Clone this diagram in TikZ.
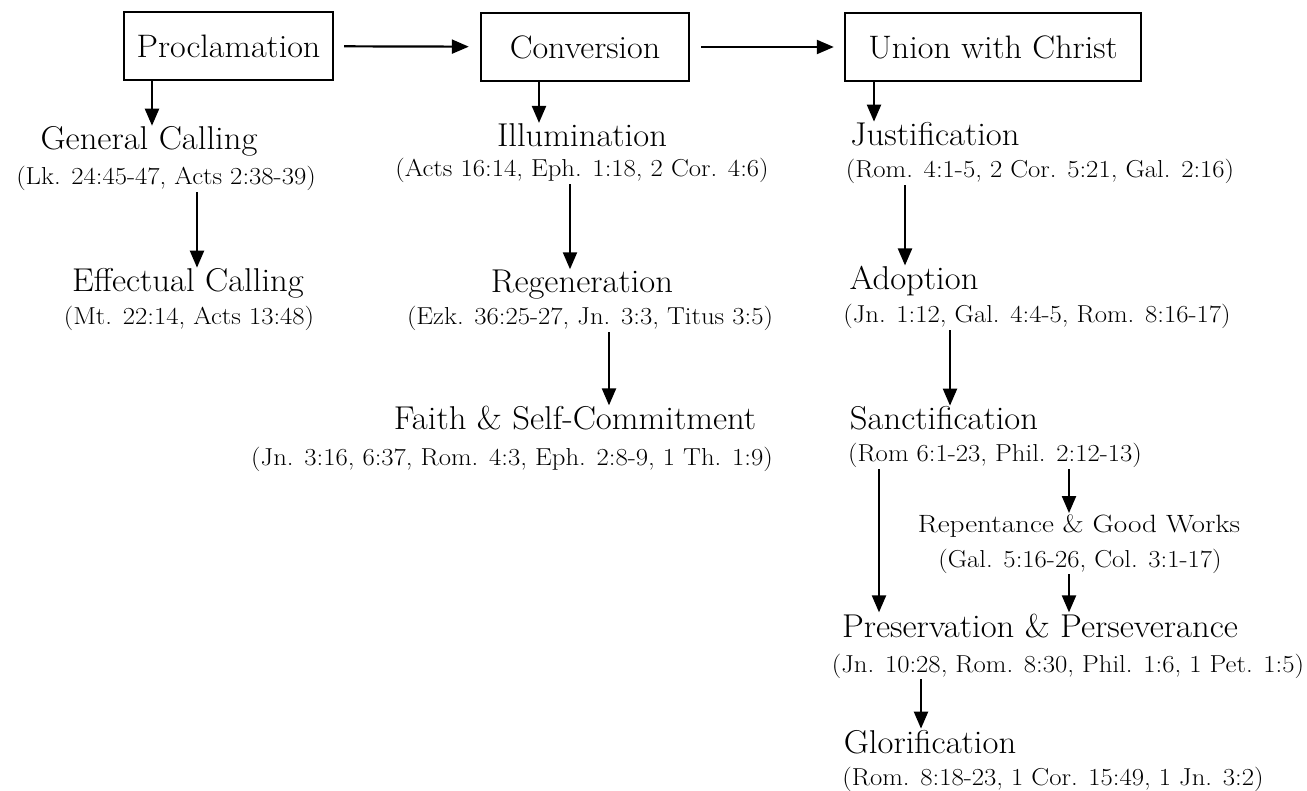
\documentclass[tikz,border=0pt]{standalone}
\usepackage{fontspec}
\usetikzlibrary{arrows.meta}
\newfontfamily\titlefont{lmroman17-regular.otf}[FakeStretch=1.05]
\newfontfamily\reffont{lmroman17-regular.otf}[FakeStretch=1.09]
\newfontfamily\smallfont{lmroman17-regular.otf}[FakeStretch=1.17]

\begin{document}
\begin{tikzpicture}[x=1pt,y=1pt,
  stagebox/.style={draw,line width=2.4pt,minimum height=68pt,inner sep=0pt,font=\titlefont\fontsize{32.5}{36}\selectfont},
  steptitle/.style={anchor=base,inner sep=1pt,font=\titlefont\fontsize{33}{36}\selectfont},
  smalltitle/.style={anchor=base,inner sep=1pt,font=\smallfont\fontsize{25}{28}\selectfont},
  stepref/.style={anchor=base,inner sep=1pt,font=\reffont\fontsize{24.5}{28}\selectfont},
  arr/.style={line width=2.2pt,-{Triangle[width=14pt,length=17pt]}}]
\useasboundingbox (0,0) rectangle (1307,-791);

% top row
\node[stagebox,minimum width=209pt] (proc) at (228.5,-46) {Proclamation};
\node[stagebox,minimum width=208pt] (conv) at (585,-47) {Conversion};
\node[stagebox,minimum width=296pt] (union) at (993,-47) {Union with Christ};
\draw[arr,shorten <=10pt,shorten >=11pt] (proc) -- (conv);
\draw[arr,shorten <=11pt,shorten >=10pt] (conv) -- (union);

% steps
\foreach \n/\x/\y/\t in {gencall/149/150/{General Calling},
  effcall/188/292/{Effectual Calling},
  illum/582/147/{Illumination},
  regen/582/293/{Regeneration},
  faith/575/430/{Faith \& Self-Commitment},
  justif/935/146/{Justification},
  adopt/914/290/{Adoption},
  sanct/944/430/{Sanctification},
  preserv/1040/637/{Preservation \& Perseverance},
  glor/930/753/{Glorification}}{
\node[steptitle] (\n) at (\x,-\y) {\t};
}
\node[smalltitle] (repent) at (1079,-532) {Repentance \& Good Works};

% scripture references
\foreach \n/\x/\y/\t in {gencallref/166/185/{(Lk. 24:45-47, Acts 2:38-39)},
  effcallref/189/325/{(Mt. 22:14, Acts 13:48)},
  illumref/582/177/{(Acts 16:14, Eph. 1:18, 2 Cor. 4:6)},
  regenref/590/325/{(Ezk. 36:25-27, Jn. 3:3, Titus 3:5)},
  faithref/512/465/{(Jn. 3:16, 6:37, Rom. 4:3, Eph. 2:8-9, 1 Th. 1:9)},
  justifref/1040/178/{(Rom. 4:1-5, 2 Cor. 5:21, Gal. 2:16)},
  adoptref/1037/323/{(Jn. 1:12, Gal. 4:4-5, Rom. 8:16-17)},
  sanctref/995/462/{(Rom 6:1-23, Phil. 2:12-13)},
  repentref/1080/567/{(Gal. 5:16-26, Col. 3:1-17)},
  preservref/1068/672/{(Jn. 10:28, Rom. 8:30, Phil. 1:6, 1 Pet. 1:5)},
  glorref/1053/785/{(Rom. 8:18-23, 1 Cor. 15:49, 1 Jn. 3:2)}}{
\node[stepref] (\n) at (\x,-\y) {\t};
}

% downward arrows
\foreach \a/\b/\x in {proc/gencall/152, gencallref/effcall/197,
  conv/illum/539, illumref/regen/570, regenref/faith/609,
  union/justif/874, justifref/adopt/905, adoptref/sanct/950,
  sanctref/preserv/879, sanctref/repent/1069, repentref/preserv/1069,
  preservref/glor/921}{
\draw[arr] (\a.south -| \x,0) -- (\b.north -| \x,0);
}
\end{tikzpicture}
\end{document}
